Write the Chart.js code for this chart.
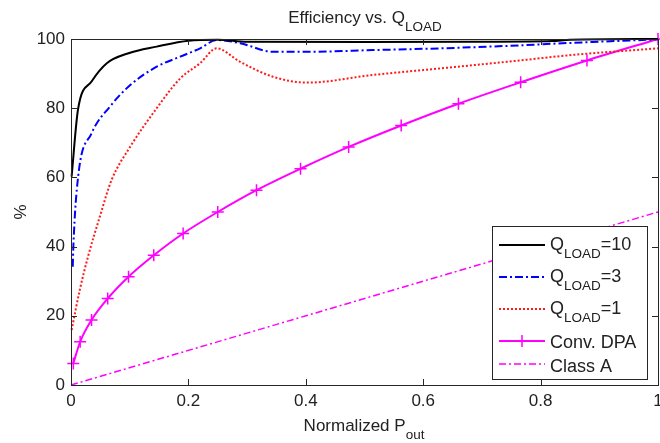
<!DOCTYPE html>
<html>
<head>
<meta charset="utf-8">
<script src="https://cdn.jsdelivr.net/npm/chart.js@4.4.1/dist/chart.umd.min.js"></script>
<style>
  body { margin: 0; background: #fff; }
</style>
</head>
<body>
<canvas id="effChart" width="660" height="443"></canvas>
<script>
var FONT = '"Liberation Sans", Arial, sans-serif';
var TEXT = '#222';

// Q_LOAD = 10
var q10X = [0.001, 0.012, 0.035, 0.061, 0.098, 0.146, 0.200, 0.25, 0.30, 0.50, 0.70, 0.82, 0.85, 1.0];
var q10Y = [60.2, 79.7, 87.7, 93.0, 95.9, 97.8, 99.5, 99.8, 99.2, 99.1, 99.2, 99.4, 99.8, 100];

// Q_LOAD = 3
var q3X = [0.003, 0.004, 0.012, 0.035, 0.066, 0.101, 0.146, 0.186, 0.220, 0.248, 0.288, 0.344, 0.402, 0.514, 0.629, 0.742, 0.855, 1.0];
var q3Y = [34.2, 40, 60, 72.7, 80.4, 86.7, 92, 94.9, 97.3, 99.7, 98.8, 96.3, 96.3, 96.8, 97.3, 98, 98.9, 99.9];

// Q_LOAD = 1
var q1X = [0.001, 0.015, 0.029, 0.049, 0.069, 0.101, 0.146, 0.186, 0.220, 0.248, 0.288, 0.344, 0.402, 0.514, 0.629, 0.742, 0.855, 1.0];
var q1Y = [15.9, 27.5, 37.1, 48.6, 59.2, 68.9, 80, 88.6, 93, 97.3, 93.4, 89.1, 87.4, 89.6, 91.5, 93.4, 95.4, 97.3];

// Conv. DPA
var dpaX = [0.0039, 0.0156, 0.035, 0.0625, 0.098, 0.141, 0.191, 0.25, 0.316, 0.391, 0.473, 0.5625, 0.66, 0.766, 0.879, 1.0];
var dpaY = [6.25, 12.5, 18.8, 25, 31.3, 37.5, 43.8, 50, 56.3, 62.5, 68.8, 75, 81.3, 87.5, 93.8, 100];

// Class A
var classAX = [0, 1];
var classAY = [0, 50];

var xTicks = [0, 0.2, 0.4, 0.6, 0.8, 1];
var yTicks = [0, 20, 40, 60, 80, 100];

function pts(xs, ys) {
    return xs.map(function (x, i) { return { x: x, y: ys[i] }; });
}

// main text + subscript (+ optional trailing text)
function subText(ctx, main, sub, after, x, y, size, subSize, center) {
    ctx.font = size + 'px ' + FONT;
    var w1 = ctx.measureText(main).width;
    var w3 = after ? ctx.measureText(after).width : 0;
    ctx.font = subSize + 'px ' + FONT;
    var w2 = ctx.measureText(sub).width;
    var x0 = center ? x - (w1 + w2 + w3) / 2 : x;
    ctx.textAlign = 'left';
    ctx.textBaseline = 'alphabetic';
    ctx.font = size + 'px ' + FONT;
    ctx.fillText(main, x0, y);
    if (after) ctx.fillText(after, x0 + w1 + w2, y);
    ctx.font = subSize + 'px ' + FONT;
    ctx.fillText(sub, x0 + w1, y + 8);
}

var legendItems = [
    { q: '10', color: '#000', dash: [], width: 2 },
    { q: '3', color: '#0000ff', dash: [8, 3, 2, 3], width: 2 },
    { q: '1', color: '#ff1a1a', dash: [2, 2], width: 2 },
    { label: 'Conv. DPA', color: '#ff00ff', dash: [], width: 2, marker: true },
    { label: 'Class A', color: '#ff00ff', dash: [7, 3, 2, 3], width: 1.5 }
];

var matlabFrame = {
    id: 'matlabFrame',
    afterDraw: function (chart) {
        var ctx = chart.ctx;
        var a = chart.chartArea;
        var sx = chart.scales.x, sy = chart.scales.y;
        ctx.save();
        ctx.strokeStyle = '#262626';
        ctx.lineWidth = 1;
        ctx.setLineDash([]);
        ctx.strokeRect(Math.round(a.left) + 0.5, Math.round(a.top) + 0.5,
            Math.round(a.right - a.left), Math.round(a.bottom - a.top));
        ctx.beginPath();
        xTicks.forEach(function (v) {
            var px = Math.round(sx.getPixelForValue(v)) + 0.5;
            ctx.moveTo(px, a.bottom); ctx.lineTo(px, a.bottom - 6);
            ctx.moveTo(px, a.top); ctx.lineTo(px, a.top + 6);
        });
        yTicks.forEach(function (v) {
            var py = Math.round(sy.getPixelForValue(v)) + 0.5;
            ctx.moveTo(a.left, py); ctx.lineTo(a.left + 6, py);
            ctx.moveTo(a.right, py); ctx.lineTo(a.right - 6, py);
        });
        ctx.stroke();

        // legend box
        var lx = 492, ly = 226, lw = 155, lh = 153;
        ctx.fillStyle = '#fff';
        ctx.fillRect(lx, ly, lw, lh);
        ctx.strokeStyle = '#262626';
        ctx.strokeRect(lx + 0.5, ly + 0.5, lw, lh);
        var rows = [245, 277, 309, 341, 364];
        var bases = [249.5, 281.5, 314, 348, 371.5];
        legendItems.forEach(function (it, i) {
            ctx.strokeStyle = it.color;
            ctx.lineWidth = it.width;
            ctx.setLineDash(it.dash);
            ctx.beginPath();
            ctx.moveTo(499, rows[i]); ctx.lineTo(545, rows[i]);
            ctx.stroke();
            ctx.setLineDash([]);
            if (it.marker) {
                ctx.lineWidth = 1.5;
                ctx.beginPath();
                ctx.moveTo(522, rows[i] - 6); ctx.lineTo(522, rows[i] + 6);
                ctx.moveTo(516, rows[i]); ctx.lineTo(528, rows[i]);
                ctx.stroke();
            }
            ctx.fillStyle = TEXT;
            if (it.q) {
                subText(ctx, 'Q', 'LOAD', '=' + it.q, 550, bases[i], 18, 13.5, false);
            } else {
                ctx.font = '18px ' + FONT;
                ctx.textAlign = 'left';
                ctx.textBaseline = 'alphabetic';
                ctx.fillText(it.label, 550, bases[i]);
            }
        });

        // titles
        ctx.fillStyle = TEXT;
        subText(ctx, 'Efficiency vs. Q', 'LOAD', '', 365, 23, 17, 13.5, true);
        subText(ctx, 'Normalized P', 'out', '', 364, 431, 17, 13.5, true);
        ctx.translate(26, 212);
        ctx.rotate(-Math.PI / 2);
        ctx.font = '17px ' + FONT;
        ctx.textAlign = 'center';
        ctx.textBaseline = 'alphabetic';
        ctx.fillText('%', 0, 0);
        ctx.restore();
    }
};

var ctx = document.getElementById('effChart').getContext('2d');
var effChart = new Chart(ctx, {
    type: 'line',
    data: {
        datasets: [
            {
                label: 'Q_LOAD=10',
                data: pts(q10X, q10Y),
                borderColor: '#000',
                borderWidth: 2,
                pointRadius: 0
            },
            {
                label: 'Q_LOAD=3',
                data: pts(q3X, q3Y),
                borderColor: '#0000ff',
                borderWidth: 2,
                borderDash: [8, 3, 2, 3],
                pointRadius: 0
            },
            {
                label: 'Q_LOAD=1',
                data: pts(q1X, q1Y),
                borderColor: '#ff1a1a',
                borderWidth: 2,
                borderDash: [2, 2],
                pointRadius: 0
            },
            {
                label: 'Conv. DPA',
                data: pts(dpaX, dpaY),
                borderColor: '#ff00ff',
                borderWidth: 2,
                pointStyle: 'cross',
                pointRadius: 6,
                pointBorderWidth: 1.5,
                pointBorderColor: '#ff00ff'
            },
            {
                label: 'Class A',
                data: pts(classAX, classAY),
                borderColor: '#ff00ff',
                borderWidth: 1.5,
                borderDash: [7, 3, 2, 3],
                pointRadius: 0
            }
        ]
    },
    options: {
        responsive: false,
        animation: false,
        clip: false,
        layout: {
            padding: { top: 39, right: 2, left: 0, bottom: 0 },
            autoPadding: false
        },
        elements: { line: { tension: 0.25, cubicInterpolationMode: 'monotone' } },
        plugins: {
            legend: { display: false },
            title: { display: false },
            tooltip: { enabled: false }
        },
        scales: {
            x: {
                type: 'linear',
                min: 0,
                max: 1,
                ticks: {
                    stepSize: 0.2, padding: 6, maxRotation: 0, color: TEXT,
                    font: { family: FONT, size: 17 },
                    callback: function (v) { return String(Math.round(v * 10) / 10); }
                },
                grid: { display: false, drawTicks: false },
                border: { display: false },
                afterFit: function (s) {
                    s.height = 58;
                    s.paddingLeft = 0;
                    s.paddingRight = 0;
                }
            },
            y: {
                min: 0,
                max: 100,
                ticks: { stepSize: 20, padding: 6, color: TEXT, font: { family: FONT, size: 17 } },
                grid: { display: false, drawTicks: false },
                border: { display: false },
                afterFit: function (s) {
                    s.width = 71;
                    s.paddingTop = 0;
                    s.paddingBottom = 0;
                }
            }
        }
    },
    plugins: [matlabFrame]
});
</script>
</body>
</html>
